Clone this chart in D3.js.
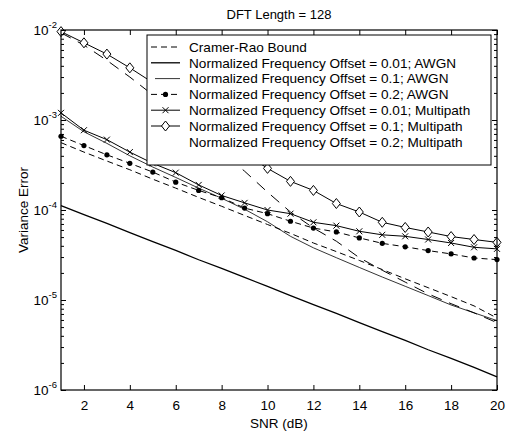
<!DOCTYPE html>
<html><head><meta charset="utf-8">
<script src="https://cdn.jsdelivr.net/npm/d3@7"></script>
<style>body{margin:0;background:#fff}svg{display:block}text{font-family:"Liberation Sans",Arial,sans-serif;fill:#000}</style>
</head><body><svg id="c" width="514" height="434"></svg>
<script>
const snr = [1,2,3,4,5,6,7,8,9,10,11,12,13,14,15,16,17,18,19,20];
const crb      = [5.6e-4,4.4e-4,3.5e-4,2.8e-4,2.2e-4,1.75e-4,1.38e-4,1.1e-4,8.7e-5,6.9e-5,5.5e-5,4.3e-5,3.45e-5,2.75e-5,2.18e-5,1.72e-5,1.37e-5,1.09e-5,8.6e-6,6.3e-6];
const awgn001  = [1.12e-4,8.9e-5,7.1e-5,5.6e-5,4.45e-5,3.55e-5,2.8e-5,2.25e-5,1.78e-5,1.42e-5,1.12e-5,8.9e-6,7.1e-6,5.6e-6,4.45e-6,3.55e-6,2.8e-6,2.25e-6,1.78e-6,1.4e-6];
const awgn01   = [1.1e-3,7.4e-4,5.5e-4,4.0e-4,3.0e-4,2.3e-4,1.75e-4,1.35e-4,1.02e-4,7.4e-5,5.1e-5,3.8e-5,2.95e-5,2.3e-5,1.8e-5,1.42e-5,1.12e-5,8.8e-6,7.2e-6,5.9e-6];
const awgn02   = [6.6e-4,5.2e-4,4.1e-4,3.3e-4,2.64e-4,2.04e-4,1.65e-4,1.37e-4,1.05e-4,9.1e-5,7.5e-5,6.3e-5,5.7e-5,4.9e-5,4.26e-5,3.9e-5,3.54e-5,3.25e-5,2.93e-5,2.81e-5];
const mp001    = [1.2e-3,7.7e-4,6.05e-4,4.4e-4,3.3e-4,2.6e-4,1.9e-4,1.45e-4,1.2e-4,1.0e-4,9.1e-5,7.3e-5,6.7e-5,5.8e-5,5.3e-5,5.1e-5,4.7e-5,4.3e-5,3.85e-5,3.7e-5];
const mp01     = [9.6e-3,7.2e-3,5.4e-3,3.8e-3,2.6e-3,1.75e-3,1.1e-3,6.8e-4,4.3e-4,2.9e-4,2.08e-4,1.65e-4,1.18e-4,9.5e-5,7.3e-5,6.4e-5,5.7e-5,5.07e-5,4.7e-5,4.37e-5];
const mp02     = [9.3e-3,6.8e-3,4.6e-3,3.0e-3,1.9e-3,1.2e-3,7.5e-4,4.4e-4,2.7e-4,1.58e-4,9.5e-5,6.3e-5,4.5e-5,2.95e-5,2.14e-5,1.58e-5,1.17e-5,9.1e-6,7.2e-6,5.6e-6];
const legendLabels = [
  "Cramer-Rao Bound",
  "Normalized Frequency Offset = 0.01; AWGN",
  "Normalized Frequency Offset = 0.1; AWGN",
  "Normalized Frequency Offset = 0.2; AWGN",
  "Normalized Frequency Offset = 0.01; Multipath",
  "Normalized Frequency Offset = 0.1; Multipath",
  "Normalized Frequency Offset = 0.2; Multipath"
];
const xTicks = [2,4,6,8,10,12,14,16,18,20];
const yDecades = [1e-6,1e-5,1e-4,1e-3,1e-2];
const yExp = ["-6","-5","-4","-3","-2"];
const titleText = "DFT Length = 128";
const xLabel = "SNR (dB)";
const yLabel = "Variance Error";

const L = 61, R = 497, T = 30, B = 390;
const svg = d3.select("#c");
const x = d3.scaleLinear().domain([1,20]).range([L,R]);
const y = d3.scaleLog().domain([1e-6,1e-2]).range([B,T]);

const series = [
  {v: crb,     dash: "6,4",   w: 1,   marker: null},
  {v: awgn001, dash: null,    w: 1.3, marker: null},
  {v: awgn01,  dash: null,    w: 0.8, marker: null},
  {v: awgn02,  dash: "6,4",   w: 1,   marker: "dot"},
  {v: mp001,   dash: null,    w: 1,   marker: "x"},
  {v: mp01,    dash: null,    w: 1,   marker: "diamond"},
  {v: mp02,    dash: "11,8",  w: 1,   marker: null}
];

const line = d3.line().x((d,i)=>x(snr[i])).y(d=>y(d));
const plot = svg.append("g");
series.forEach(s=>{
  plot.append("path").attr("d", line(s.v)).attr("fill","none").attr("stroke","#000")
    .attr("stroke-width", s.w).attr("stroke-dasharray", s.dash);
});
function drawMarker(g, type, cx, cy){
  if(type==="dot") g.append("circle").attr("cx",cx).attr("cy",cy).attr("r",2.6).attr("fill","#000");
  else if(type==="x") g.append("path").attr("d",`M${cx-3},${cy-3}L${cx+3},${cy+3}M${cx-3},${cy+3}L${cx+3},${cy-3}`).attr("stroke","#000").attr("stroke-width",1);
  else if(type==="diamond") g.append("path").attr("d",`M${cx},${cy-5}L${cx+4},${cy}L${cx},${cy+5}L${cx-4},${cy}Z`).attr("fill","#fff").attr("stroke","#000").attr("stroke-width",1);
}
series.forEach(s=>{
  if(!s.marker) return;
  s.v.forEach((d,i)=>drawMarker(plot, s.marker, x(snr[i]), y(d)));
});

// axes
const minor = y.ticks().filter(t=>!yDecades.some(d=>Math.abs(d-t)<d*1e-6));
const axG = svg.append("g").attr("class","ax");
const xb = axG.append("g").attr("transform",`translate(0,${B})`)
  .call(d3.axisBottom(x).tickValues(xTicks).tickSize(-5).tickPadding(10.5).tickFormat(d3.format("d")));
axG.append("g").attr("transform",`translate(0,${T})`)
  .call(d3.axisTop(x).tickValues(xTicks).tickSize(-5).tickFormat(""));
axG.append("g").attr("transform",`translate(${L},0)`)
  .call(d3.axisLeft(y).tickValues(yDecades).tickSize(-5).tickFormat(""));
axG.append("g").attr("transform",`translate(${L},0)`)
  .call(d3.axisLeft(y).tickValues(minor).tickSize(-3).tickFormat(""));
axG.append("g").attr("transform",`translate(${R},0)`)
  .call(d3.axisRight(y).tickValues(yDecades).tickSize(-5).tickFormat(""));
axG.append("g").attr("transform",`translate(${R},0)`)
  .call(d3.axisRight(y).tickValues(minor).tickSize(-3).tickFormat(""));
axG.selectAll(".domain").remove();
axG.selectAll("line").attr("stroke","#000");
xb.selectAll("text").style("font-size","13.5px");
// y tick labels with superscript
yDecades.forEach((d,i)=>{
  const t = svg.append("text").attr("x", L-4).attr("y", y(d)+5).attr("text-anchor","end").style("font-size","13.5px");
  t.append("tspan").text("10");
  t.append("tspan").attr("dy",-7).style("font-size","9.5px").text(yExp[i]);
});
svg.append("rect").attr("x",L).attr("y",T).attr("width",R-L).attr("height",B-T)
  .attr("fill","none").attr("stroke","#000").attr("stroke-width",1.2);

// legend
const lg = svg.append("g");
const lx0 = 147, ly0 = 35, lx1 = 491, ly1 = 165;
lg.append("rect").attr("x",lx0).attr("y",ly0).attr("width",lx1-lx0).attr("height",ly1-ly0)
  .attr("fill","#fff").attr("stroke","#000").attr("stroke-width",1);
legendLabels.forEach((lab,i)=>{
  const cy = 47 + i*15.8;
  const s = series[i];
  if(i<6){
    lg.append("line").attr("x1", i===2?155:151).attr("x2",180).attr("y1",cy).attr("y2",cy)
      .attr("stroke","#000").attr("stroke-width",s.w).attr("stroke-dasharray", s.dash);
  }
  if(s.marker) drawMarker(lg, s.marker, 165.5, cy);
  lg.append("text").attr("x",189).attr("y",cy+4.8).style("font-size","13.6px").text(lab);
});

svg.append("text").attr("x",(L+R)/2).attr("y",19).attr("text-anchor","middle").style("font-size","13px").text(titleText);
svg.append("text").attr("x",(L+R)/2).attr("y",428).attr("text-anchor","middle").style("font-size","13.5px").text(xLabel);
svg.append("text").attr("transform",`translate(28,${(T+B)/2}) rotate(-90)`).attr("text-anchor","middle").style("font-size","13.5px").text(yLabel);
</script></body></html>
